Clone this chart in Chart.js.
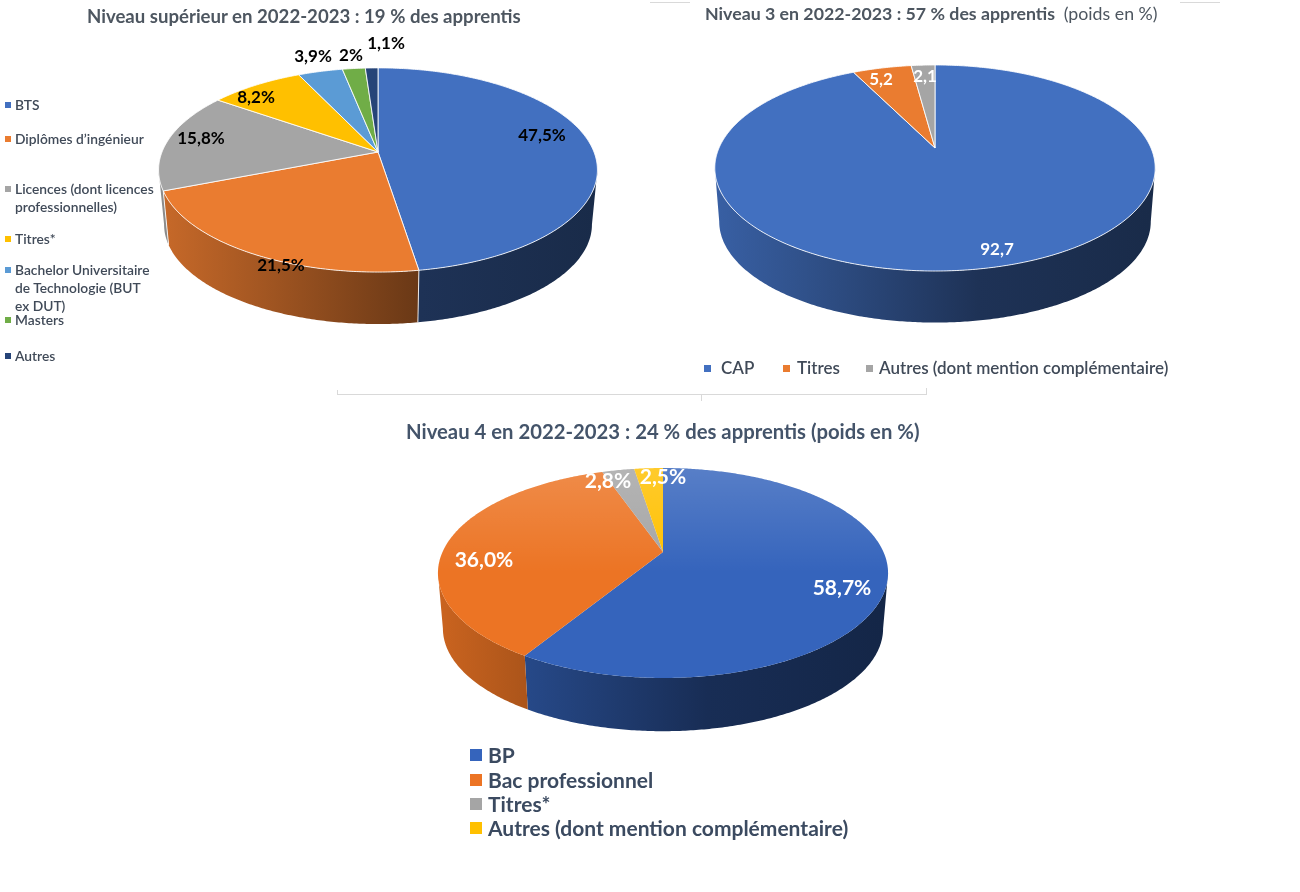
<!DOCTYPE html>
<html lang="fr">
<head>
<meta charset="utf-8">
<title>Apprentis 2022-2023</title>
<script src="https://cdn.jsdelivr.net/npm/chart.js@4"></script>
<style>
  html, body { margin: 0; padding: 0; background: #fff; }
  body { width: 1300px; height: 892px; position: relative; overflow: hidden; font-family: Lato, sans-serif; }
  canvas { position: absolute; }
  .title, .leg, .rule { position: absolute; }
  .title { white-space: nowrap; font-weight: 700; transform: translateY(-50%); }
  .title span { font-weight: 400; }
  .leg i { position: absolute; display: block; }
  .rule { background: #d9d9d9; }
</style>
</head>
<body>
<canvas id="pieSup" width="480" height="480" style="left:138px;top:-88px"></canvas>
<canvas id="pieN3" width="480" height="480" style="left:695px;top:-92px"></canvas>
<canvas id="pieN4" width="480" height="480" style="left:423px;top:312px"></canvas>

<script>
// ======= Data =======
const supCategories = ['BTS', 'Diplômes d’ingénieur', 'Licences (dont licences professionnelles)', 'Titres*',
  'Bachelor Universitaire de Technologie (BUT ex DUT)', 'Masters', 'Autres'];
const supValues = [47.5, 21.5, 15.8, 8.2, 3.9, 2, 1.1];
const supLabels = ['47,5%', '21,5%', '15,8%', '8,2%', '3,9%', '2%', '1,1%'];

const n3Categories = ['CAP', 'Titres', 'Autres (dont mention complémentaire)'];
const n3Values = [92.7, 5.2, 2.1];
const n3Labels = ['92,7', '5,2', '2,1'];

const n4Categories = ['BP', 'Bac professionnel', 'Titres*', 'Autres (dont mention complémentaire)'];
const n4Values = [58.7, 36.0, 2.8, 2.5];
const n4Labels = ['58,7%', '36,0%', '2,8%', '2,5%'];

// ======= Colours =======
const supColors = ['#4270c0', '#ea7c30', '#a5a5a5', '#ffc000', '#5b9bd5', '#70ad47', '#264478'];
const n3Colors = ['#4270c0', '#ea7c30', '#a5a5a5'];
const n4Colors = ['#3564bc', '#ec7424', '#a5a5a5', '#ffc000'];

function shade(hex, f) {
  const n = parseInt(hex.slice(1), 16);
  return 'rgb(' + Math.round((n >> 16) * f) + ',' + Math.round(((n >> 8) & 255) * f) + ',' + Math.round((n & 255) * f) + ')';
}

// ======= Tilted pie: the library lays out the arcs, this projects them =======
const tiltPie = {
  id: 'tiltPie',
  beforeDatasetDraw(chart, args, opts) {
    const ctx = chart.ctx;
    const arcs = args.meta.data.map(a => {
      const p = a.getProps(['x', 'y', 'startAngle', 'endAngle', 'outerRadius'], true);
      p.color = a.options.backgroundColor;
      return p;
    });
    const pers = opts.perspective;
    const proj = (a, r, s, dy) => {
      const w = 1 - pers * Math.sin(a);
      return [arcs[0].x + s * r * Math.cos(a) / w,
              arcs[0].y + dy + s * r * opts.squash * Math.sin(a) / w];
    };
    const R = arcs[0].outerRadius;
    const edge = Math.asin(pers);

    // side wall, front part only
    arcs.forEach(arc => {
      const from = Math.max(arc.startAngle, edge);
      const to = Math.min(arc.endAngle, Math.PI - edge);
      if (to <= from) return;
      const grad = ctx.createLinearGradient(arc.x - R, 0, arc.x + R, 0);
      grad.addColorStop(0, shade(arc.color, 0.85));
      grad.addColorStop(0.2, shade(arc.color, 0.72));
      grad.addColorStop(0.6, shade(arc.color, 0.45));
      grad.addColorStop(1, shade(arc.color, 0.38));
      ctx.beginPath();
      for (let a = from; a < to; a += 0.01) ctx.lineTo(...proj(a, R, 1, 0));
      ctx.lineTo(...proj(to, R, 1, 0));
      ctx.lineTo(...proj(to, R, opts.shrink, opts.depth));
      for (let a = to; a > from; a -= 0.01) ctx.lineTo(...proj(a, R, opts.shrink, opts.depth));
      ctx.lineTo(...proj(from, R, opts.shrink, opts.depth));
      ctx.closePath();
      ctx.fillStyle = grad;
      ctx.fill();
      if (from === arc.startAngle) {
        ctx.beginPath();
        ctx.moveTo(...proj(from, R, 1, 0));
        ctx.lineTo(...proj(from, R, opts.shrink, opts.depth));
        ctx.strokeStyle = opts.edge;
        ctx.stroke();
      }
    });

    // top face
    arcs.forEach(arc => {
      ctx.beginPath();
      ctx.moveTo(arc.x, arc.y);
      for (let a = arc.startAngle; a < arc.endAngle; a += 0.01) ctx.lineTo(...proj(a, R, 1, 0));
      ctx.lineTo(...proj(arc.endAngle, R, 1, 0));
      ctx.closePath();
      ctx.fillStyle = arc.color;
      ctx.fill();
      if (opts.shine) {
        const top = arc.y - R * opts.squash;
        const g = ctx.createLinearGradient(0, top, 0, top + 2.0 * R * opts.squash * 0.6);
        g.addColorStop(0, 'rgba(255,255,255,' + opts.shine + ')');
        g.addColorStop(1, 'rgba(255,255,255,0)');
        ctx.fillStyle = g;
        ctx.fill();
      }
      ctx.lineWidth = 1;
      ctx.strokeStyle = opts.edge;
      ctx.stroke();
    });
    return false; // the flat pie is replaced by the tilted one
  },
  afterDatasetsDraw(chart, args, opts) {
    const ctx = chart.ctx;
    const c = chart.getDatasetMeta(0).data[0];
    ctx.save();
    ctx.font = opts.font;
    ctx.fillStyle = opts.textColor;
    ctx.textAlign = 'center';
    ctx.textBaseline = 'middle';
    opts.labels.forEach((txt, i) => {
      ctx.fillText(txt, c.x + opts.labelOffsets[i][0], c.y + opts.labelOffsets[i][1]);
    });
    ctx.restore();
  }
};

function drawPie(id, values, colors, tilt) {
  new Chart(document.getElementById(id), {
    type: 'pie',
    data: { datasets: [{ data: values, backgroundColor: colors, borderWidth: 0 }] },
    options: {
      responsive: false,
      animation: false,
      radius: tilt.radius,
      plugins: { legend: { display: false }, tooltip: { enabled: false }, tiltPie: tilt }
    },
    plugins: [tiltPie]
  });
}

drawPie('pieSup', supValues, supColors, {
  radius: 216, perspective: 0.176, squash: 0.458, depth: 55, shrink: 0.975,
  edge: 'rgba(255,255,255,0.85)', shine: 0,
  labels: supLabels, font: '700 17px Lato', textColor: '#000',
  labelOffsets: [[164, -16], [-97, 114], [-177, -13], [-122, -54], [-65, -95], [-27, -96], [8, -108]]
});
drawPie('pieN3', n3Values, n3Colors, {
  radius: 216, perspective: 0.194, squash: 0.459, depth: 54, shrink: 0.98,
  edge: 'rgba(255,255,255,0.85)', shine: 0,
  labels: n3Labels, font: '700 17px Lato', textColor: '#fff',
  labelOffsets: [[62, 102], [-54, -68], [-10, -71]]
});
drawPie('pieN4', n4Values, n4Colors, {
  radius: 220.5, perspective: 0.2, squash: 0.457, depth: 56, shrink: 0.978,
  edge: 'rgba(255,255,255,0)', shine: 0.2,
  labels: n4Labels, font: '700 21px Lato', textColor: '#fff',
  labelOffsets: [[179, 36], [-179, 8], [-55, -71], [0, -75]]
});

// ======= Titles =======
function addTitle(html, left, mid, size, color) {
  const d = document.createElement('div');
  d.className = 'title';
  d.innerHTML = html;
  d.style.cssText = 'left:' + left + 'px;top:' + mid + 'px;font-size:' + size + 'px;color:' + color;
  document.body.appendChild(d);
}
addTitle('Niveau supérieur en 2022-2023 : 19 % des apprentis', 87, 16, 18.6, '#4d5660');
addTitle('Niveau 3 en 2022-2023 : 57 % des apprentis&nbsp; <span>(poids en %)</span>', 705, 13, 17.75, '#4d5660');
addTitle('Niveau 4 en 2022-2023 : 24 % des apprentis (poids en %)', 406, 431, 20.3, '#44546a');

// ======= Legends =======
function addLegend(categories, colors, cfg) {
  categories.forEach((name, i) => {
    const d = document.createElement('div');
    d.className = 'leg';
    d.textContent = name;
    d.style.cssText = 'left:' + cfg.textX[i] + 'px;top:' + cfg.rowY[i] + 'px;font:' + cfg.font +
      ';color:' + cfg.color + ';line-height:' + cfg.lineHeight + 'px;width:' + cfg.width + 'px';
    const m = document.createElement('i');
    m.style.cssText = 'left:' + (cfg.boxX[i] - cfg.textX[i]) + 'px;top:' + ((cfg.lineHeight - cfg.box) / 2) +
      'px;width:' + cfg.box + 'px;height:' + cfg.box + 'px;background:' + colors[i];
    d.appendChild(m);
    document.body.appendChild(d);
  });
}
addLegend(supCategories, supColors, {
  textX: [15, 15, 15, 15, 15, 15, 15], boxX: [5, 5, 5, 5, 5, 5, 5],
  rowY: [96, 130, 180, 230, 261, 311, 347],
  font: '600 13.8px Lato', color: '#404a58', lineHeight: 18, width: 140.5, box: 6
});
addLegend(n3Categories, n3Colors, {
  textX: [721, 797, 879], boxX: [704, 783, 866], rowY: [358, 358, 358],
  font: '600 17px Lato', color: '#404a58', lineHeight: 20, width: 320, box: 7
});
addLegend(n4Categories, n4Colors, {
  textX: [488, 488, 488, 488], boxX: [470, 470, 470, 470], rowY: [743, 767.5, 792, 816],
  font: '700 21px Lato', color: '#3b4a60', lineHeight: 24, width: 400, box: 12
});

// leftover frame lines of the source document
[[337, 394, 590, 1], [337, 390, 1, 4], [926, 388, 1, 6], [701, 394, 1, 7],
 [650, 2, 40, 1], [1180, 2, 40, 1]].forEach(r => {
  const d = document.createElement('div');
  d.className = 'rule';
  d.style.cssText = 'left:' + r[0] + 'px;top:' + r[1] + 'px;width:' + r[2] + 'px;height:' + r[3] + 'px';
  document.body.appendChild(d);
});
</script>
</body>
</html>
